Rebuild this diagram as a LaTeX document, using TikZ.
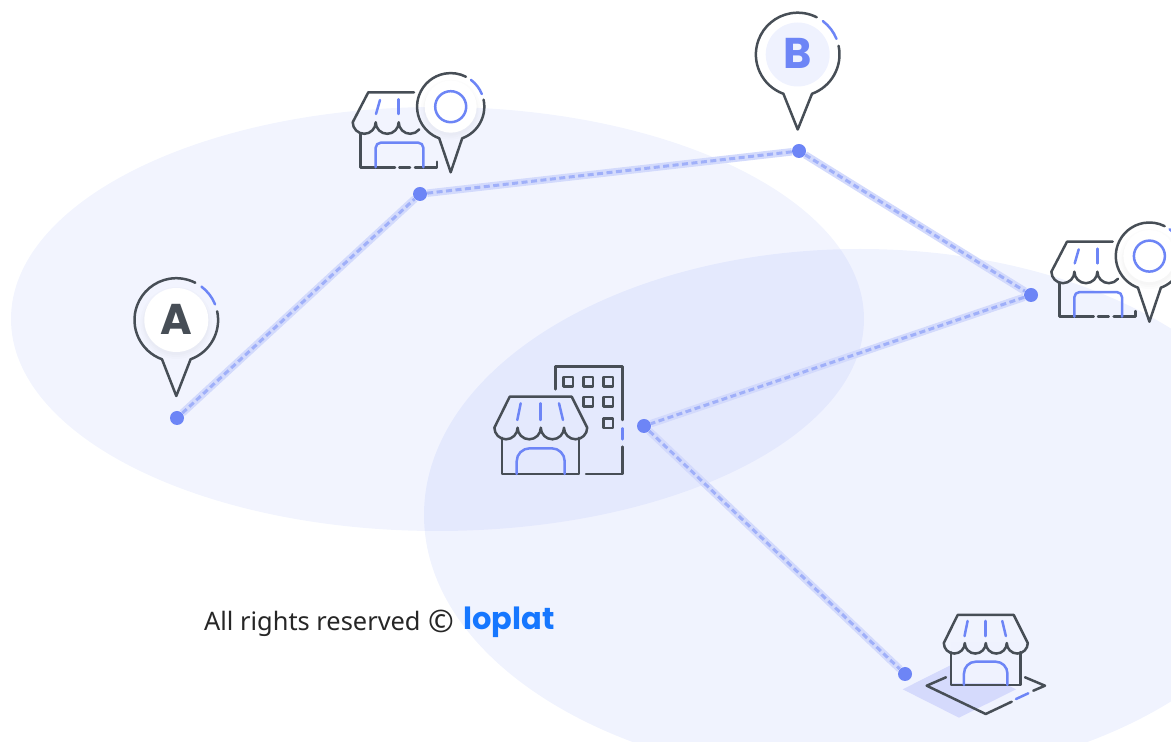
\documentclass[tikz,border=0pt]{standalone}
\usepackage{fontspec}
\setmainfont{Noto Sans}
\newfontfamily\logofont[Scale=1]{Poppins}
\usetikzlibrary{calc}

\definecolor{linedark}{HTML}{474E56}
\definecolor{lineblue}{HTML}{6D85F6}
\definecolor{zonetint}{HTML}{6E86F5}
\definecolor{padtint}{HTML}{D5DAFC}
\definecolor{floorfill}{HTML}{EFF2FE}
\definecolor{logoblue}{HTML}{1677FF}

\tikzset{
    darkline/.style={draw=linedark,line width=2.5pt,line cap=round,line join=round},
    blueline/.style={draw=lineblue,line width=2.5pt,line cap=round,line join=round},
    zone/.style={fill=zonetint,fill opacity=0.09},
    routeband/.style={draw=lineblue!30,line width=7.5pt},
    routedash/.style={draw=lineblue!65,line width=3pt,dash pattern=on 6pt off 3.5pt},
    stop/.style={circle,fill=lineblue,inner sep=0pt,minimum size=14pt},
    pinletter/.style={font=\logofont\fontsize{43}{43}\selectfont\bfseries},
    pics/pinhead/.style n args={2}{code={
        \draw[darkline] (12:#1) arc (12:-70:#1) -- (0,-#2) -- (-110:#1) arc (-110:-297:#1);
        \draw[blueline] (53:#1) arc (53:22:#1);
    }},
    pics/softdisc/.style={code={
        \fill[black,opacity=0.012] (0,-3) circle (#1+4);
        \fill[black,opacity=0.012] (0,-3) circle (#1+2);
        \fill[black,opacity=0.012] (0,-2) circle (#1+1);
    }},
    pics/fullstore/.style={code={
        \draw[darkline] (-31,0) -- (31,0) -- (46.5,-31) arc (0:-180:11.6) arc (0:-180:11.6) arc (0:-180:11.6) arc (0:-180:11.6) -- cycle;
        \draw[darkline] (-38.5,-41) -- (-38.5,-77.3) -- (38.5,-77.3) -- (38.5,-41);
        \draw[blueline] (-20,-6.6) -- (-23.4,-23.3);
        \draw[blueline] (0,-6.6) -- (0,-23.3);
        \draw[blueline] (18.3,-6.6) -- (22.3,-23.3);
        \draw[blueline] (-24,-77.3) -- (-24,-64.6) arc (180:90:13) -- (11,-51.6) arc (90:0:13) -- (24,-77.3);
    }},
    pics/storepin/.style={code={
        \draw[darkline] (15.3,0) -- (-30.4,0) -- (-46,-30) arc (-180:0:11.5) arc (180:360:11.5) arc (180:322:11.5);
        \draw[darkline] (-38,-41) -- (-38,-75) -- (-3.7,-75);
        \draw[darkline] (0.6,-75) -- (11.3,-75);
        \draw[darkline] (16.3,-75) -- (38.3,-75) -- (38.3,-69.4);
        \draw[blueline] (-18.7,-7.7) -- (-22.7,-21.7);
        \draw[blueline] (0,-7) -- (0,-21.7);
        \draw[blueline] (-23,-75) -- (-23,-55.4) arc (180:90:5) -- (19.6,-50.4) arc (90:0:5) -- (24.6,-75);
        \begin{scope}[shift={(52,-14.4)}]
            \pic {softdisc=26};
            \fill[white] (0,0) circle (26);
            \draw[blueline] (0,0) circle (15.5);
            \pic {pinhead={33.6}{65.6}};
        \end{scope}
    }}
}

\begin{document}
\begin{tikzpicture}[x=1pt,y=1pt]
    \useasboundingbox (0,0) rectangle (1171,742);
    \clip (0,0) rectangle (1171,742);

    % zones
    \fill[zone] (437.5,423) ellipse (426.5 and 212);
    \fill[zone,fill opacity=0.1] (860,227) ellipse (436 and 266);

    % route
    \node[stop] (stopA) at (177,324) {};
    \node[stop] (stopShopOne) at (420,548) {};
    \node[stop] (stopB) at (799,591) {};
    \node[stop] (stopShopTwo) at (1031,447) {};
    \node[stop] (stopBuilding) at (644,316) {};
    \node[stop] (stopPad) at (905,68) {};

    \draw[routeband] (stopA) -- (stopShopOne);
    \draw[routeband] (stopShopOne) -- (stopB);
    \draw[routeband] (stopB) -- (stopShopTwo);
    \draw[routeband] (stopShopTwo) -- (stopBuilding);
    \draw[routeband] (stopBuilding) -- (stopPad);
    \draw[routedash] (stopA) -- (stopShopOne);
    \draw[routedash] (stopShopOne) -- (stopB);
    \draw[routedash] (stopB) -- (stopShopTwo);
    \draw[routedash] (stopShopTwo) -- (stopBuilding);
    \draw[routedash] (stopBuilding) -- (stopPad);

    % pin A
    \pic at (176.3,422) {softdisc=32};
    \fill[white] (176.3,422) circle (32);
    \pic at (176.3,422) {pinhead={41.8}{76}};
    \node[pinletter,text=linedark] (letterA) at (176,423) {A};

    % pin B
    \fill[floorfill] (797.7,687.5) circle (32);
    \pic at (797.7,687.5) {pinhead={41.8}{75}};
    \node[pinletter,text=lineblue] (letterB) at (797.7,688.5) {B};

    % shops with pins
    \pic at (398.7,649.7) {storepin};
    \pic at (1097.4,500.3) {storepin};

    % building and shop
    \draw[darkline] (555.3,352.7) -- (555.3,375.3) -- (622.7,375.3) -- (622.7,322);
    \draw[blueline] (622.7,313.7) -- (622.7,302.7);
    \draw[darkline] (622.7,295.3) -- (622.7,268) -- (586,268);
    \draw[darkline] (563.5,355.5) rectangle (573.1,365.1);
    \draw[darkline] (583.5,355.5) rectangle (593.1,365.1);
    \draw[darkline] (603.5,355.5) rectangle (613.1,365.1);
    \draw[darkline] (583.5,335.5) rectangle (593.1,345.1);
    \draw[darkline] (603.5,335.5) rectangle (613.1,345.1);
    \draw[darkline] (603.5,313.9) rectangle (613.1,323.5);
    \pic at (540.7,345.3) {fullstore};

    % shop on its pad
    \fill[padtint] (902.7,52.7) -- (959,81) -- (1016,52.7) -- (959,24.3) -- cycle;
    \fill[floorfill] (950.7,58.7) rectangle (1021,100);
    \draw[darkline] (946,64.7) -- (926.7,56.3) -- (985.7,28) -- (1011.7,40.3);
    \draw[blueline] (1016,43) -- (1028.3,48.7);
    \draw[darkline] (1033.3,51.3) -- (1045,56.3) -- (1025,64.7);
    \pic[scale=0.905] at (985.7,127) {fullstore};

    % footer
    \node[anchor=base west,inner sep=0pt,text=black!85,font=\fontsize{25.4}{25.4}\selectfont] (rights) at (204,111.5) {All rights reserved\hspace{8pt}\raisebox{-2pt}{\fontsize{31}{31}\selectfont ©}};
    \node[anchor=base west,inner sep=0pt,text=logoblue,font=\logofont\fontsize{30.5}{30.5}\selectfont\bfseries] (logo) at (463,112) {loplat};
\end{tikzpicture}
\end{document}
